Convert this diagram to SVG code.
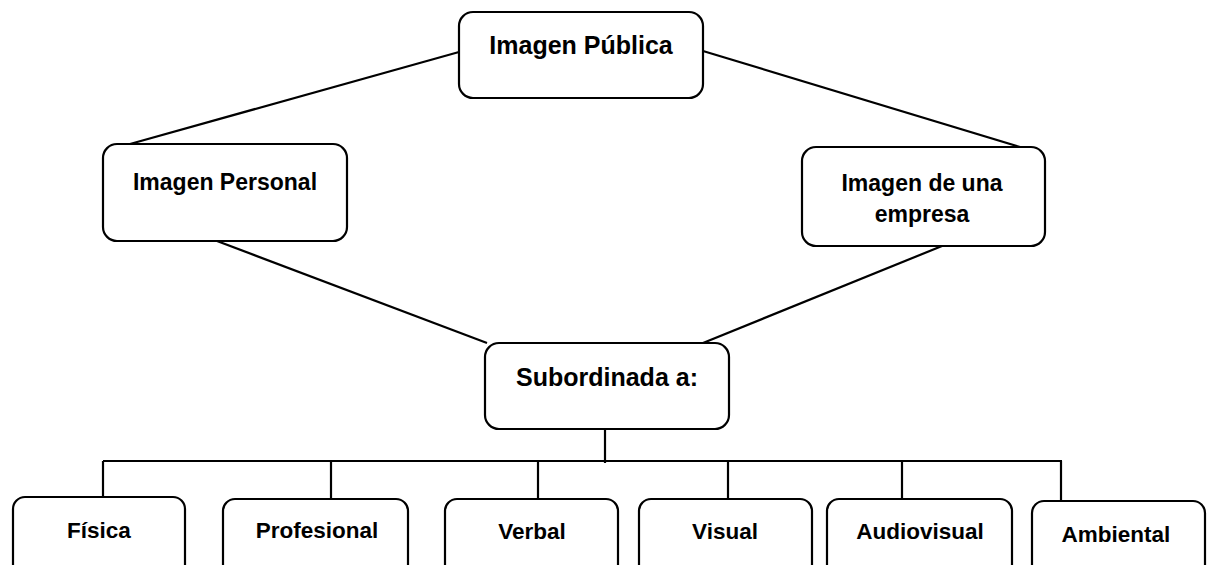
<svg xmlns="http://www.w3.org/2000/svg" width="1212" height="565" viewBox="0 0 1212 565">
<style>
.box{fill:#fff;stroke:#000;stroke-width:2.2}
.ln{stroke:#000;stroke-width:2.2;fill:none}
.t{font-family:"Liberation Sans",Arial,sans-serif;font-weight:bold;fill:#000;text-anchor:middle}
.big{font-size:25px}
.mid{font-size:23px}
.sm{font-size:22.5px}
</style>
<rect width="1212" height="565" fill="#fff"/>
<g id="connectors">
<line class="ln" x1="130" y1="144" x2="459" y2="52"/>
<line class="ln" x1="703" y1="51" x2="1020" y2="147"/>
<line class="ln" x1="217" y1="241" x2="487" y2="343"/>
<line class="ln" x1="942" y1="246" x2="703" y2="343"/>
<line class="ln" x1="605" y1="429" x2="605" y2="463"/>
<line class="ln" x1="103" y1="461" x2="1062" y2="461"/>
<line class="ln" x1="103" y1="461" x2="103" y2="497"/>
<line class="ln" x1="331" y1="461" x2="331" y2="499"/>
<line class="ln" x1="538" y1="461" x2="538" y2="499"/>
<line class="ln" x1="728" y1="461" x2="728" y2="499"/>
<line class="ln" x1="902" y1="461" x2="902" y2="499"/>
<line class="ln" x1="1061" y1="461" x2="1061" y2="501"/>
</g>
<g id="imagen-publica">
<rect class="box" x="459" y="12" width="244" height="86" rx="14"/>
<text class="t big" x="581" y="54">Imagen Pública</text>
</g>
<g id="imagen-personal">
<rect class="box" x="103" y="144" width="244" height="97" rx="14"/>
<text class="t mid" x="225" y="190">Imagen Personal</text>
</g>
<g id="imagen-empresa">
<rect class="box" x="802" y="147" width="243" height="99" rx="14"/>
<text class="t mid" x="922" y="191">Imagen de una</text>
<text class="t mid" x="922" y="222">empresa</text>
</g>
<g id="subordinada">
<rect class="box" x="485" y="343" width="244" height="86" rx="14"/>
<text class="t big" x="607" y="386">Subordinada a:</text>
</g>
<g id="fisica">
<rect class="box" x="13" y="497" width="172" height="80" rx="12"/>
<text class="t sm" x="99" y="538">Física</text>
</g>
<g id="profesional">
<rect class="box" x="223" y="499" width="185" height="80" rx="12"/>
<text class="t sm" x="317" y="538">Profesional</text>
</g>
<g id="verbal">
<rect class="box" x="445" y="499" width="173" height="80" rx="12"/>
<text class="t sm" x="532" y="539">Verbal</text>
</g>
<g id="visual">
<rect class="box" x="639" y="499" width="173" height="80" rx="12"/>
<text class="t sm" x="725" y="539">Visual</text>
</g>
<g id="audiovisual">
<rect class="box" x="827" y="499" width="185" height="80" rx="12"/>
<text class="t sm" x="920" y="539">Audiovisual</text>
</g>
<g id="ambiental">
<rect class="box" x="1032" y="501" width="173" height="80" rx="12"/>
<text class="t sm" x="1116" y="542">Ambiental</text>
</g>
</svg>
